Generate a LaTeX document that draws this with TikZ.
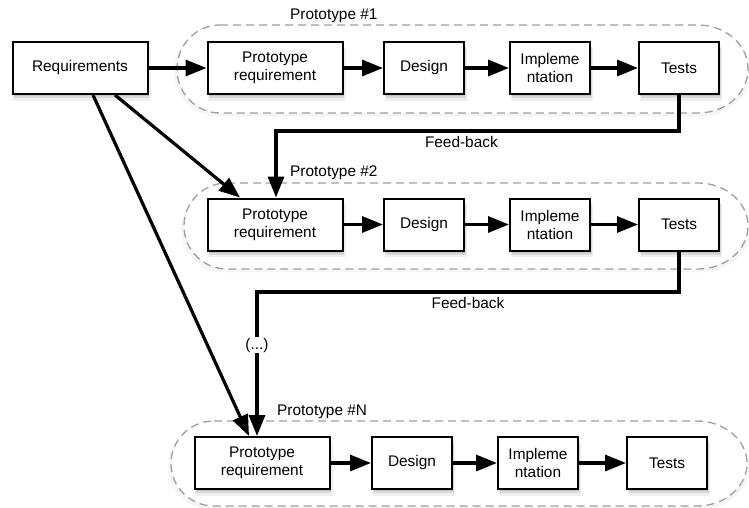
\documentclass[tikz,border=0pt]{standalone}
\usepackage{fontspec}
\setmainfont{Liberation Sans}
\usetikzlibrary{positioning}
\usetikzlibrary{arrows.meta}
\usetikzlibrary{shadows}

\tikzset{
softshadow/.style={
  drop shadow={shadow xshift=1pt, shadow yshift=-2pt, opacity=0.2},
  drop shadow={shadow xshift=1.5pt, shadow yshift=-4pt, opacity=0.2},
  drop shadow={shadow xshift=2pt, shadow yshift=-6pt, opacity=0.12, shadow scale=1.02}},
stage/.style={draw, line width=2pt, fill=white, align=center, minimum height=52pt, inner sep=2pt, softshadow},
wide/.style={stage, minimum width=135pt},
narrow/.style={stage, minimum width=80pt},
flow/.style={line width=3.2pt, -{Triangle[length=21pt,width=16pt]}},
protoframe/.style={draw=gray!75, line width=1.3pt, dash pattern=on 8pt off 5pt, fill=white,
  drop shadow={shadow xshift=0pt, shadow yshift=-3pt, opacity=0.08, shadow scale=1.01}},
tag/.style={inner sep=0pt, anchor=west}
}

\begin{document}
\begin{tikzpicture}[x=1pt,y=-1pt, font=\fontsize{15.4pt}{18pt}\selectfont]

\useasboundingbox (0,0) rectangle (749,508);

% dashed frames round the prototypes
\draw[protoframe] (220,25) -- (698,25) arc[start angle=90, end angle=-90, x radius=50pt, y radius=44pt]
  -- (220,113) arc[start angle=270, end angle=90, x radius=43pt, y radius=44pt] -- cycle;
\draw[protoframe] (227,183) -- (698,183) arc[start angle=90, end angle=-90, x radius=50pt, y radius=43pt]
  -- (227,269) arc[start angle=270, end angle=90, x radius=43pt, y radius=43pt] -- cycle;
\draw[protoframe] (214,421) -- (697,421) arc[start angle=90, end angle=-90, x radius=50pt, y radius=42.5pt]
  -- (214,506) arc[start angle=270, end angle=90, x radius=43pt, y radius=42.5pt] -- cycle;

\node[tag] (lab1) at (290,16) {Prototype \#1};
\node[tag] (lab2) at (290,173) {Prototype \#2};
\node[tag] (labN) at (277,412) {Prototype \#N};

% first row
\node[wide] (req) at (80,68) {Requirements};
\node[wide] (pr1) at (275,68) {Prototype\\requirement};
\node[narrow] (d1) at (424,68) {Design};
\node[narrow] (i1) at (550,68) {Impleme\\ntation};
\node[narrow] (t1) at (679,68) {Tests};

% second row
\node[wide] (pr2) at (275,224.5) {Prototype\\requirement};
\node[narrow] (d2) at (424,224.5) {Design};
\node[narrow] (i2) at (550,224.5) {Impleme\\ntation};
\node[narrow] (t2) at (679,224.5) {Tests};

% last row
\node[wide] (pr3) at (262,463) {Prototype\\requirement};
\node[narrow] (d3) at (412,463) {Design};
\node[narrow] (i3) at (538,463) {Impleme\\ntation};
\node[narrow] (t3) at (667,463) {Tests};

\coordinate (fb1) at (276,131);
\coordinate (fb2) at (257,292);

\draw[flow] (req) -- (pr1);
\draw[flow] (pr1) -- (d1);
\draw[flow] (d1) -- (i1);
\draw[flow] (i1) -- (t1);

\draw[flow] (pr2) -- (d2);
\draw[flow] (d2) -- (i2);
\draw[flow] (i2) -- (t2);

\draw[flow] (pr3) -- (d3);
\draw[flow] (d3) -- (i3);
\draw[flow] (i3) -- (t3);

\draw[flow] ([xshift=35pt]req.south) -- ([xshift=-35pt]pr2.north);
\draw[flow] ([xshift=13pt]req.south) -- ([xshift=-13pt]pr3.north);

\draw[flow] (t1.south) |- node[pos=0.77, below] {Feed-back} (fb1) -- (fb1 |- pr2.north);
\draw[flow] (t2.south) |- node[pos=0.75, below] {Feed-back} (fb2) -- node[pos=0.37, fill=white, inner sep=1pt] (dots) {(...)} (fb2 |- pr3.north);

\end{tikzpicture}
\end{document}
